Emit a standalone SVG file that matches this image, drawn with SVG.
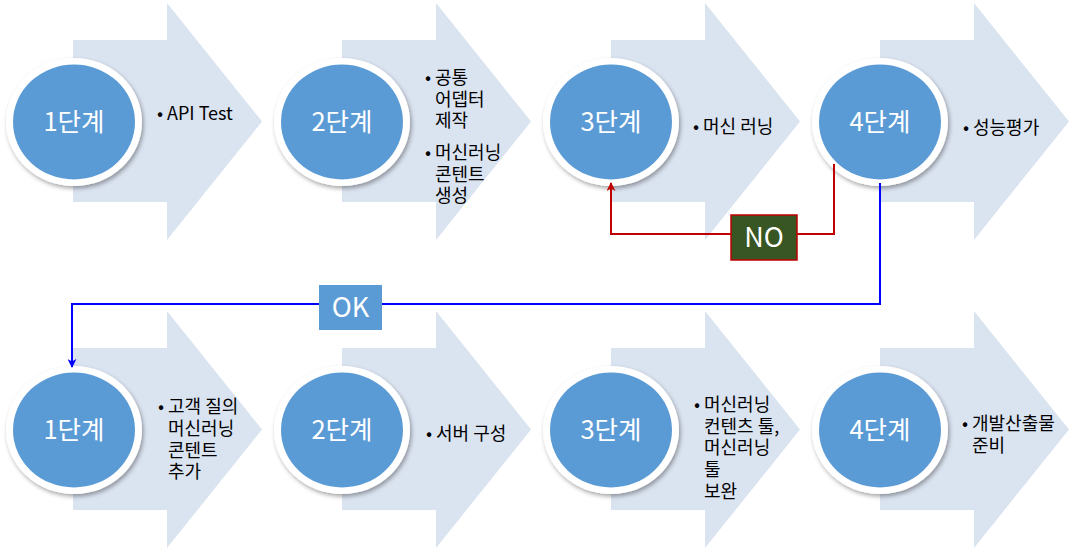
<svg xmlns="http://www.w3.org/2000/svg" width="1072" height="551" viewBox="0 0 1072 551">
<style>
.arr{fill:#DAE3F0}
.ring{fill:#FFFFFF}
.disc{fill:#5B9BD5}
.ct{font-family:"Noto Sans CJK KR","Liberation Sans",sans-serif;font-size:25.5px;fill:#FFFFFF;text-anchor:middle}
.bt{font-family:"Noto Sans CJK KR","Liberation Sans",sans-serif;font-size:18px;fill:#000000}
.lbl{font-family:"Noto Sans CJK KR","Liberation Sans",sans-serif;font-size:27px;fill:#FFFFFF;text-anchor:middle}
.red{fill:none;stroke:#C00000;stroke-width:2}
.blue{fill:none;stroke:#0000FF;stroke-width:2}
</style>
<defs>
<filter id="sh" x="-20%" y="-20%" width="140%" height="140%">
<feDropShadow dx="1.5" dy="2.5" stdDeviation="2" flood-color="#000000" flood-opacity="0.35"/>
</filter>
<marker id="mr" viewBox="0 0 10 10" refX="9" refY="5" markerWidth="9" markerHeight="9" markerUnits="userSpaceOnUse" orient="auto">
<path d="M0,0 L10,5 L0,10 L3,5 z" fill="#C00000"/>
</marker>
<marker id="mb" viewBox="0 0 10 10" refX="9" refY="5" markerWidth="9" markerHeight="9" markerUnits="userSpaceOnUse" orient="auto">
<path d="M0,0 L10,5 L0,10 L3,5 z" fill="#0000FF"/>
</marker>
</defs>
<rect width="1072" height="551" fill="#FFFFFF"/>

<g id="step-top-1">
<polygon class="arr" points="73,40 167,40 167,3 262,121.5 167,240 167,202 73,202"/>
<g filter="url(#sh)"><ellipse class="ring" cx="74" cy="122" rx="68" ry="64"/></g>
<ellipse class="disc" cx="74" cy="122" rx="61" ry="57.5"/>
<text class="ct" x="74" y="131">1단계</text>
<text class="bt" x="157" y="120">•</text>
<text class="bt" x="167" y="120">API Test</text>
</g>

<g id="step-top-2">
<polygon class="arr" points="342,40 436,40 436,3 531,121.5 436,240 436,202 342,202"/>
<g filter="url(#sh)"><ellipse class="ring" cx="342" cy="122" rx="68" ry="64"/></g>
<ellipse class="disc" cx="342" cy="122" rx="61" ry="57.5"/>
<text class="ct" x="342" y="131">2단계</text>
<text class="bt" x="425" y="84">•</text>
<text class="bt" x="435" y="84">공통</text>
<text class="bt" x="435" y="106">어뎁터</text>
<text class="bt" x="435" y="127">제작</text>
<text class="bt" x="425" y="159">•</text>
<text class="bt" x="435" y="159">머신러닝</text>
<text class="bt" x="435" y="181">콘텐트</text>
<text class="bt" x="435" y="202">생성</text>
</g>

<g id="step-top-3">
<polygon class="arr" points="611,40 705,40 705,3 800,121.5 705,240 705,202 611,202"/>
<g filter="url(#sh)"><ellipse class="ring" cx="611" cy="122" rx="68" ry="64"/></g>
<ellipse class="disc" cx="611" cy="122" rx="61" ry="57.5"/>
<text class="ct" x="611" y="131">3단계</text>
<text class="bt" x="693" y="133">•</text>
<text class="bt" x="703" y="133">머신 러닝</text>
</g>

<g id="step-top-4">
<polygon class="arr" points="880,40 974,40 974,3 1069,121.5 974,240 974,202 880,202"/>
<g filter="url(#sh)"><ellipse class="ring" cx="880" cy="122" rx="68" ry="64"/></g>
<ellipse class="disc" cx="880" cy="122" rx="61" ry="57.5"/>
<text class="ct" x="880" y="131">4단계</text>
<text class="bt" x="963" y="134">•</text>
<text class="bt" x="973" y="134">성능평가</text>
</g>

<g id="step-bottom-1">
<polygon class="arr" points="73,348 167,348 167,311 262,429.5 167,548 167,510 73,510"/>
<g filter="url(#sh)"><ellipse class="ring" cx="74" cy="430" rx="68" ry="64"/></g>
<ellipse class="disc" cx="74" cy="430" rx="61" ry="57.5"/>
<text class="ct" x="74" y="439">1단계</text>
<text class="bt" x="158" y="413">•</text>
<text class="bt" x="168" y="413">고객 질의</text>
<text class="bt" x="168" y="435">머신러닝</text>
<text class="bt" x="168" y="457">콘텐트</text>
<text class="bt" x="168" y="478">추가</text>
</g>

<g id="step-bottom-2">
<polygon class="arr" points="342,348 436,348 436,311 531,429.5 436,548 436,510 342,510"/>
<g filter="url(#sh)"><ellipse class="ring" cx="342" cy="430" rx="68" ry="64"/></g>
<ellipse class="disc" cx="342" cy="430" rx="61" ry="57.5"/>
<text class="ct" x="342" y="439">2단계</text>
<text class="bt" x="426" y="440">•</text>
<text class="bt" x="436" y="440">서버 구성</text>
</g>

<g id="step-bottom-3">
<polygon class="arr" points="611,348 705,348 705,311 800,429.5 705,548 705,510 611,510"/>
<g filter="url(#sh)"><ellipse class="ring" cx="611" cy="430" rx="68" ry="64"/></g>
<ellipse class="disc" cx="611" cy="430" rx="61" ry="57.5"/>
<text class="ct" x="611" y="439">3단계</text>
<text class="bt" x="694" y="411">•</text>
<text class="bt" x="704" y="411">머신러닝</text>
<text class="bt" x="704" y="433">컨텐츠 툴,</text>
<text class="bt" x="704" y="454">머신러닝</text>
<text class="bt" x="704" y="476">툴</text>
<text class="bt" x="704" y="498">보완</text>
</g>

<g id="step-bottom-4">
<polygon class="arr" points="880,348 974,348 974,311 1069,429.5 974,548 974,510 880,510"/>
<g filter="url(#sh)"><ellipse class="ring" cx="880" cy="430" rx="68" ry="64"/></g>
<ellipse class="disc" cx="880" cy="430" rx="61" ry="57.5"/>
<text class="ct" x="880" y="439">4단계</text>
<text class="bt" x="962" y="430">•</text>
<text class="bt" x="972" y="430">개발산출물</text>
<text class="bt" x="972" y="452">준비</text>
</g>

<g id="connectors">
<path class="red" d="M834,164 V234 H611 V183" marker-end="url(#mr)"/>
<path class="blue" d="M880,183 V304 H72 V367" marker-end="url(#mb)"/>
</g>

<g id="label-no">
<rect x="731" y="215" width="66" height="45" fill="#375623" stroke="#C00000" stroke-width="1.5"/>
<text class="lbl" x="764" y="247">NO</text>
</g>

<g id="label-ok">
<rect x="319" y="285" width="63" height="45" fill="#5B9BD5"/>
<text class="lbl" x="350.5" y="317">OK</text>
</g>
</svg>
